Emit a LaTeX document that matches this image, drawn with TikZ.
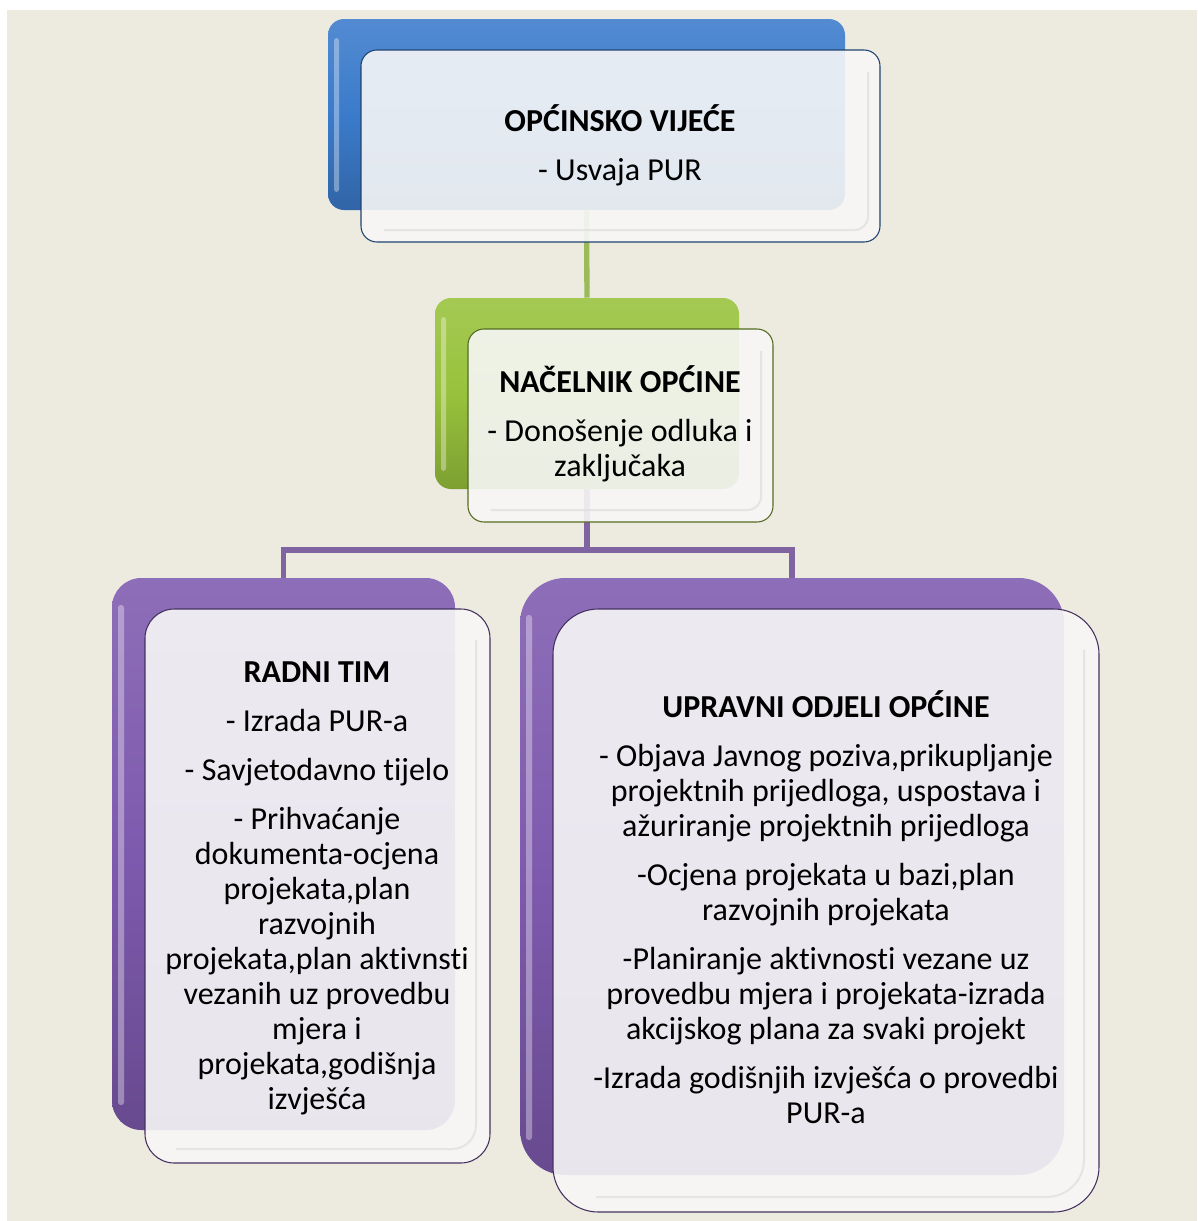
\documentclass[tikz,border=0pt]{standalone}
\usepackage{fontspec}
\setmainfont{Carlito}[RawFeature=-liga]
\usetikzlibrary{fit}

\definecolor{pozadina}{HTML}{EDEBE0}
\definecolor{plava}{HTML}{3B7BCB}
\definecolor{zelena}{HTML}{98C23C}
\definecolor{ljubicasta}{HTML}{7E5AAE}
\definecolor{zelenaLinija}{HTML}{9BBB59}
\definecolor{ljubicastaLinija}{HTML}{8064A2}

\tikzset{
	straznja/.style={inner sep=0pt, top color=#1!88!white, bottom color=#1!82!black, middle color=#1},
	prednja/.style={inner sep=0pt, fill=white!97!black, fill opacity=0.9, draw=#1!55!black, line width=0.8pt},
	sjaj/.style={fill=white, opacity=0.35},
	kosina/.style={draw=black!12, line width=1.5pt, opacity=0.8},
	tekst/.style={align=center, inner sep=0pt, font=\fontsize{24}{26.25}\selectfont},
	veza/.style={line width=4pt, draw=#1},
}

\begin{document}
\begin{tikzpicture}[x=0.75pt, y=-0.75pt]
	\fill[white] (0, 0) rectangle (1197, 1221);
	\fill[pozadina] (7, 10) rectangle (1197, 1221);

	\node[straznja=plava, rounded corners=12pt, fit={(328, 19) (845, 210)}] (vijeceStrana) {};
	\node[straznja=zelena, rounded corners=12pt, fit={(435, 298) (739, 489)}] (nacelnikStrana) {};
	\node[straznja=ljubicasta, rounded corners=22pt, fit={(112, 578) (455, 1130)}] (timStrana) {};
	\node[straznja=ljubicasta, rounded corners=34pt, fit={(520, 578) (1064, 1175)}] (odjeliStrana) {};

	\fill[sjaj, rounded corners=2pt] (334, 38) rectangle (339, 192);
	\fill[sjaj, rounded corners=2pt] (441, 317) rectangle (446, 471);
	\fill[sjaj, rounded corners=2pt] (118, 605) rectangle (124, 1105);
	\fill[sjaj, rounded corners=2pt] (526, 615) rectangle (532, 1140);

	\coordinate (racva) at (587, 550);
	\draw[veza=zelenaLinija] (vijeceStrana.south) -- (nacelnikStrana.north);
	\draw[veza=ljubicastaLinija] (nacelnikStrana.south) -- (racva);
	\draw[veza=ljubicastaLinija] (timStrana.north) |- (racva) -| (odjeliStrana.north);

	\node[prednja=plava, rounded corners=12pt, fit={(361, 50) (880, 242)}] (vijece) {};
	\node[prednja=zelena, rounded corners=12pt, fit={(468, 329) (773, 522)}] (nacelnik) {};
	\node[prednja=ljubicasta, rounded corners=22pt, fit={(145, 609) (490, 1163)}] (tim) {};
	\node[prednja=ljubicasta, rounded corners=34pt, fit={(553, 609) (1099, 1212)}] (odjeli) {};

	\draw[kosina, rounded corners=10pt] (868, 72) -- (868, 230) -- (384, 230);
	\draw[kosina, rounded corners=10pt] (761, 351) -- (761, 510) -- (491, 510);
	\draw[kosina, rounded corners=18pt] (476, 640) -- (476, 1149) -- (176, 1149);
	\draw[kosina, rounded corners=28pt] (1084, 650) -- (1084, 1197) -- (596, 1197);

	\node[tekst] (vijeceTekst) at (620, 145) {\textbf{OPĆINSKO VIJEĆE}\\[10.5pt]- Usvaja PUR};
	\node[tekst] (nacelnikTekst) at (620, 424) {\textbf{NAČELNIK OPĆINE}\\[10.5pt]- Donošenje odluka i\\zaključaka};
	\node[tekst] (timTekst) at (317, 888) {\textbf{RADNI TIM}\\[10.5pt]- Izrada PUR-a\\[10.5pt]- Savjetodavno tijelo\\[10.5pt]- Prihvaćanje\\dokumenta-ocjena\\projekata,plan\\razvojnih\\projekata,plan aktivnsti\\vezanih uz provedbu\\mjera i\\projekata,godišnja\\izvješća};
	\node[tekst] (odjeliTekst) at (826, 907) {\textbf{UPRAVNI ODJELI OPĆINE}\\[10.5pt]- Objava Javnog poziva,prikupljanje\\projektnih prijedloga, uspostava i\\ažuriranje projektnih prijedloga\\[10.5pt]-Ocjena projekata u bazi,plan\\razvojnih projekata\\[10.5pt]-Planiranje aktivnosti vezane uz\\provedbu mjera i projekata-izrada\\akcijskog plana za svaki projekt\\[10.5pt]-Izrada godišnjih izvješća o provedbi\\PUR-a};
\end{tikzpicture}
\end{document}
